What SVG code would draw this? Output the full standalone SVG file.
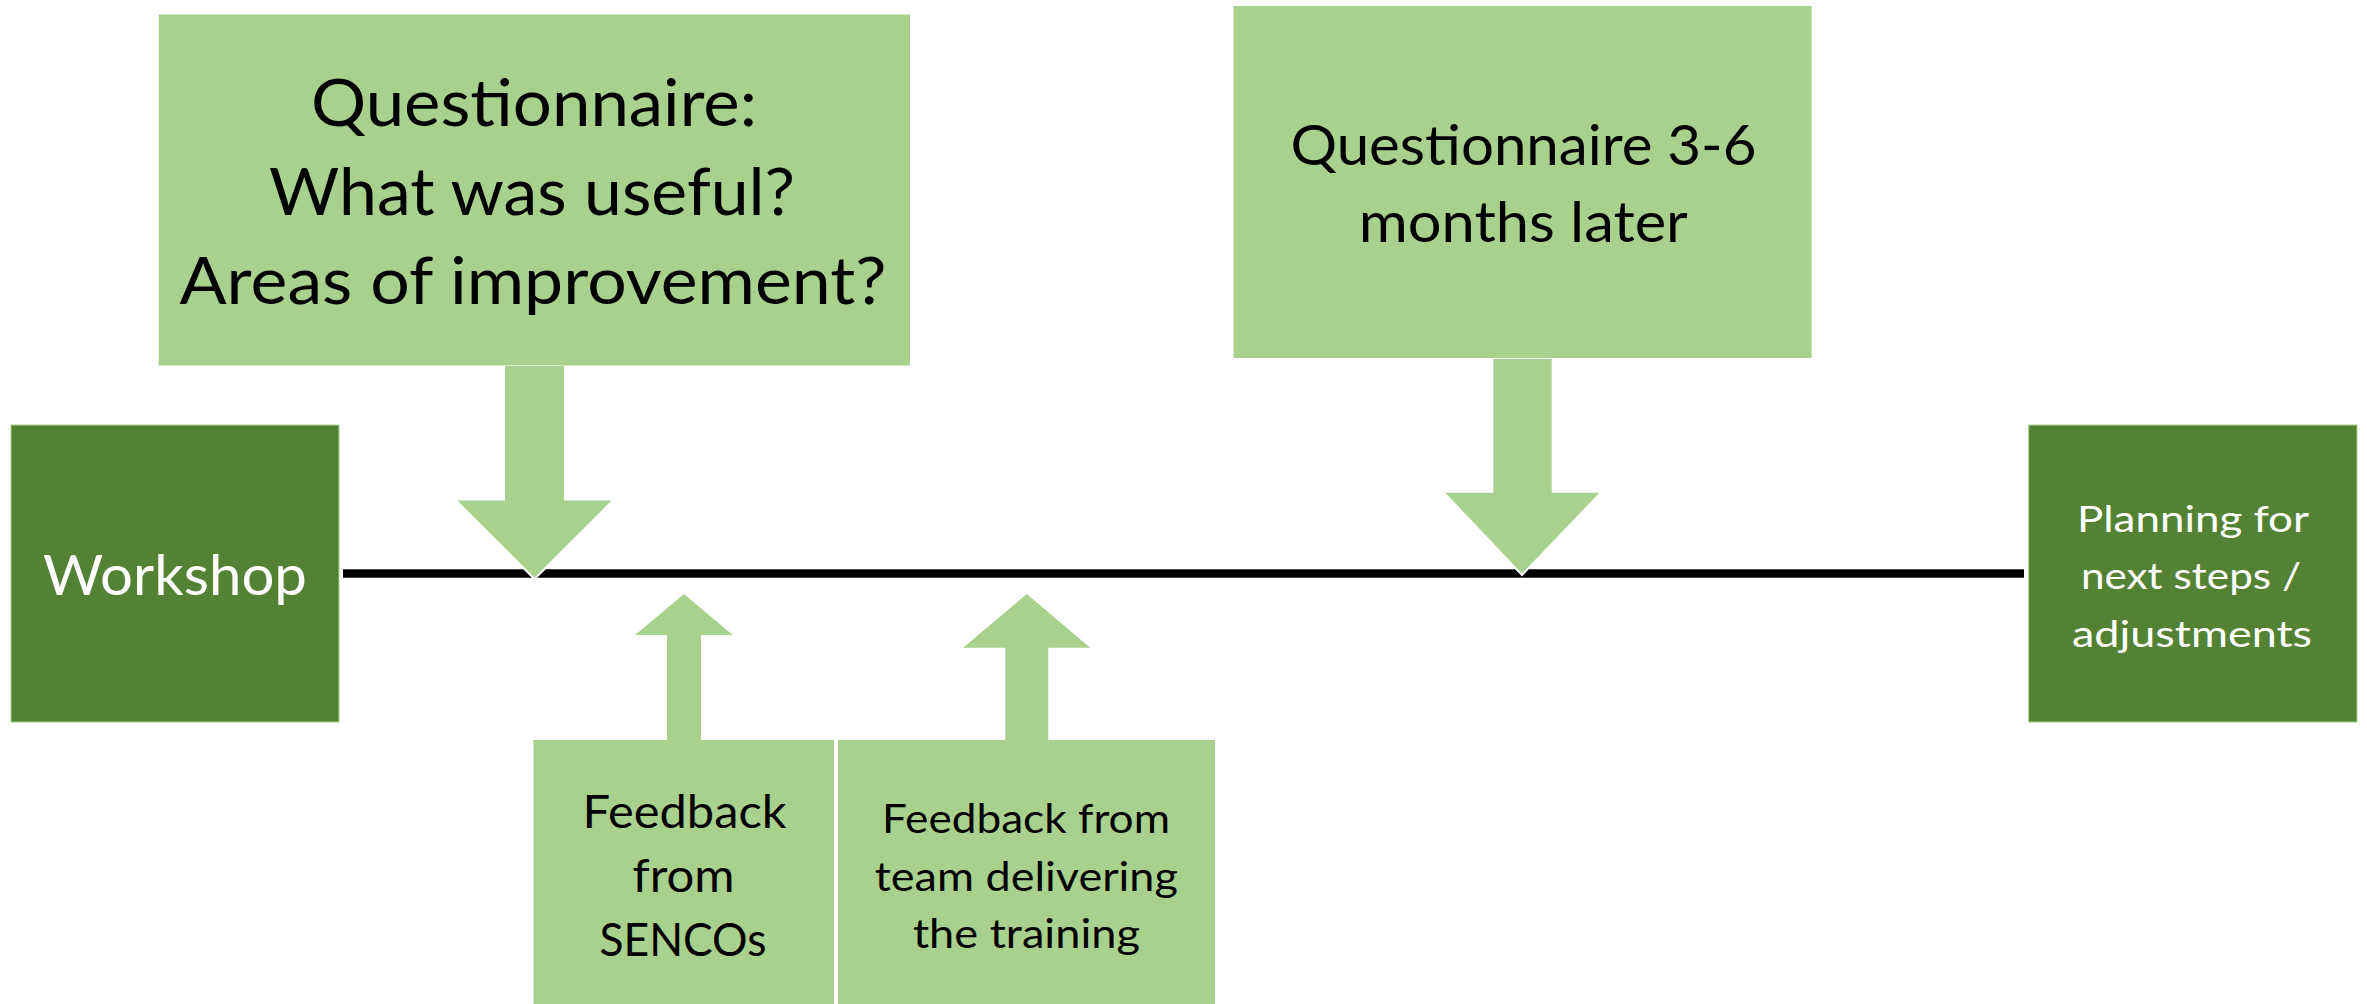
<svg xmlns="http://www.w3.org/2000/svg" width="2367" height="1004" viewBox="0 0 2367 1004">
<style>
.light{fill:#A9D18E}
.dark{fill:#548235;stroke:#A9D18E;stroke-width:1}
.arrow{fill:#A9D18E;stroke:#ffffff;stroke-width:2;stroke-linejoin:miter}
text{font-family:Lato,"Open Sans","Liberation Sans",sans-serif;text-anchor:middle}
.blk{fill:#000000}
.wht{fill:#ffffff}
</style>
<rect width="2367" height="1004" fill="#ffffff"/>
<g id="connectors">
<line x1="343" y1="573.5" x2="2024" y2="573.5" stroke="#000000" stroke-width="8.5"/>
<path class="arrow" d="M504,365 L565,365 L565,499.5 L614,499.5 L534.5,579 L455,499.5 L504,499.5 Z"/>
<path class="arrow" d="M1492.4,358 L1552.7,358 L1552.7,491.8 L1601.8,491.8 L1522,575 L1443,491.8 L1492.4,491.8 Z"/>
<path class="arrow" d="M666,741 L702,741 L702,636 L735.4,636 L684,592.7 L632.5,636 L666,636 Z"/>
<path class="arrow" d="M1004.3,741 L1049.3,741 L1049.3,648.7 L1093,648.7 L1026.8,592.7 L960.3,648.7 L1004.3,648.7 Z"/>
</g>
<g id="node-questionnaire1">
<rect class="light" x="158.7" y="14.5" width="751.3" height="351"/>
<text class="blk" x="534" y="125.5" font-size="65" textLength="446" lengthAdjust="spacingAndGlyphs">Questionnaire:</text>
<text class="blk" x="532" y="215" font-size="65" textLength="526" lengthAdjust="spacingAndGlyphs">What was useful?</text>
<text class="blk" x="533" y="304" font-size="65" textLength="707" lengthAdjust="spacingAndGlyphs">Areas of improvement?</text>
</g>
<g id="node-questionnaire2">
<rect class="light" x="1233.5" y="6" width="578.1" height="352"/>
<text class="blk" x="1523.5" y="165" font-size="57" textLength="466" lengthAdjust="spacingAndGlyphs">Questionnaire 3-6</text>
<text class="blk" x="1523.3" y="242" font-size="57" textLength="329" lengthAdjust="spacingAndGlyphs">months later</text>
</g>
<g id="node-workshop">
<rect class="dark" x="11" y="425" width="328" height="297"/>
<text class="wht" x="175" y="595" font-size="57" textLength="264" lengthAdjust="spacingAndGlyphs">Workshop</text>
</g>
<g id="node-planning">
<rect class="dark" x="2028.7" y="425" width="328.3" height="297"/>
<text class="wht" x="2193" y="531.7" font-size="37" textLength="232" lengthAdjust="spacingAndGlyphs">Planning for</text>
<text class="wht" x="2191" y="589" font-size="37" textLength="220" lengthAdjust="spacingAndGlyphs">next steps /</text>
<text class="wht" x="2192" y="647" font-size="37" textLength="240" lengthAdjust="spacingAndGlyphs">adjustments</text>
</g>
<g id="node-sencos">
<rect class="light" x="533.5" y="740" width="300.5" height="264"/>
<text class="blk" x="684.5" y="828" font-size="46" textLength="204" lengthAdjust="spacingAndGlyphs">Feedback</text>
<text class="blk" x="683.5" y="892" font-size="46" textLength="102" lengthAdjust="spacingAndGlyphs">from</text>
<text class="blk" x="683" y="956" font-size="46" textLength="167" lengthAdjust="spacingAndGlyphs">SENCOs</text>
</g>
<g id="node-team">
<rect class="light" x="838" y="740" width="377" height="264"/>
<text class="blk" x="1026" y="833" font-size="41" textLength="288" lengthAdjust="spacingAndGlyphs">Feedback from</text>
<text class="blk" x="1026.3" y="891" font-size="41" textLength="303" lengthAdjust="spacingAndGlyphs">team delivering</text>
<text class="blk" x="1026.4" y="948" font-size="41" textLength="227" lengthAdjust="spacingAndGlyphs">the training</text>
</g>
</svg>
